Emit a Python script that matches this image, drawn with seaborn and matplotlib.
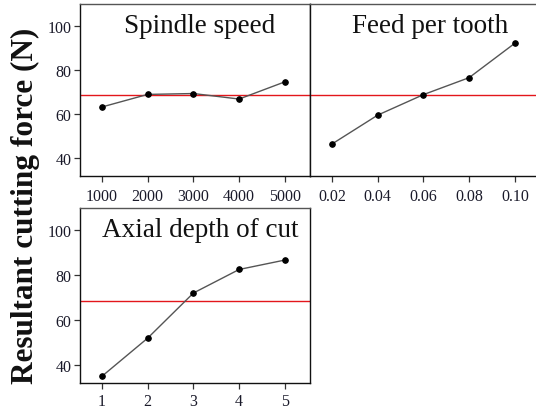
import matplotlib
matplotlib.use("Agg")
import matplotlib.pyplot as plt
import seaborn as sns
import pandas as pd

# ---- data ----
spindle_speed = [1000, 2000, 3000, 4000, 5000]
spindle_force = [63.3, 69.0, 69.4, 66.9, 74.7]
spindle_labels = ["1000", "2000", "3000", "4000", "5000"]

feed_per_tooth = [0.02, 0.04, 0.06, 0.08, 0.10]
feed_force = [46.5, 59.6, 68.9, 76.6, 92.2]
feed_labels = ["0.02", "0.04", "0.06", "0.08", "0.10"]

axial_depth = [1, 2, 3, 4, 5]
depth_force = [35.0, 52.0, 72.1, 82.6, 86.8]
depth_labels = ["1", "2", "3", "4", "5"]

grand_mean = 68.6
titles = ["Spindle speed", "Feed per tooth", "Axial depth of cut"]
y_ticks = [40, 60, 80, 100]
y_label = "Resultant cutting force (N)"

sns.set_style("ticks")
plt.rcParams["font.family"] = ["Liberation Serif", "DejaVu Serif"]

fig = plt.figure(figsize=(5.36, 4.10), dpi=100)
W, H = 536, 410

def ax_at(x0, y0, x1, y1):
    return fig.add_axes([x0 / W, 1 - y1 / H, (x1 - x0) / W, (y1 - y0) / H])

ax1 = ax_at(80, 5, 310, 177)
ax2 = ax_at(310, 5, 540, 177)
ax3 = ax_at(80, 209, 310, 384)

panels = [
    (ax1, spindle_speed, spindle_force, spindle_labels, titles[0], True, 5),
    (ax2, feed_per_tooth, feed_force, feed_labels, titles[1], False, 5),
    (ax3, axial_depth, depth_force, depth_labels, titles[2], True, 3),
]

for ax, xs, ys, labels, title, show_y, xpad in panels:
    df = pd.DataFrame({"pos": list(range(1, len(xs) + 1)), "force": ys})
    ax.axhline(grand_mean, color="#e3161b", lw=1.0, zorder=1)
    sns.lineplot(data=df, x="pos", y="force", ax=ax, color="#555555", lw=1.0,
                 marker="o", markersize=4.0, markerfacecolor="black",
                 markeredgecolor="black", zorder=3)
    ax.set_xlim(0.52, 5.55)
    ax.set_ylim(32, 110)
    ax.set_xticks(df["pos"])
    ax.set_xticklabels(labels)
    ax.set_xlabel("")
    ax.set_ylabel("")
    ax.tick_params(axis="x", length=4, width=0.9, color="#333333", labelsize=11.5,
                   labelcolor="#1a1a2a", pad=xpad)
    if show_y:
        ax.set_yticks(y_ticks)
        ax.tick_params(axis="y", length=4, width=0.9, color="#333333", labelsize=11.5,
                       labelcolor="#1a1a2a", pad=2)
    else:
        ax.set_yticks([])
    for side, sp in ax.spines.items():
        sp.set_visible(True)
        sp.set_linewidth(1.0)
        sp.set_color("#111111")
    ax.spines["top"].set_color("#555555")
    ax.text(0.522, 0.875, title, transform=ax.transAxes, ha="center", va="center",
            fontsize=19.5, color="#111111")

fig.text(25 / W, 1 - 206 / H, y_label, rotation=90, ha="center", va="center",
         fontsize=22.5, fontweight="bold", color="#111111")

fig.savefig("out.png", dpi=100, facecolor="white")
